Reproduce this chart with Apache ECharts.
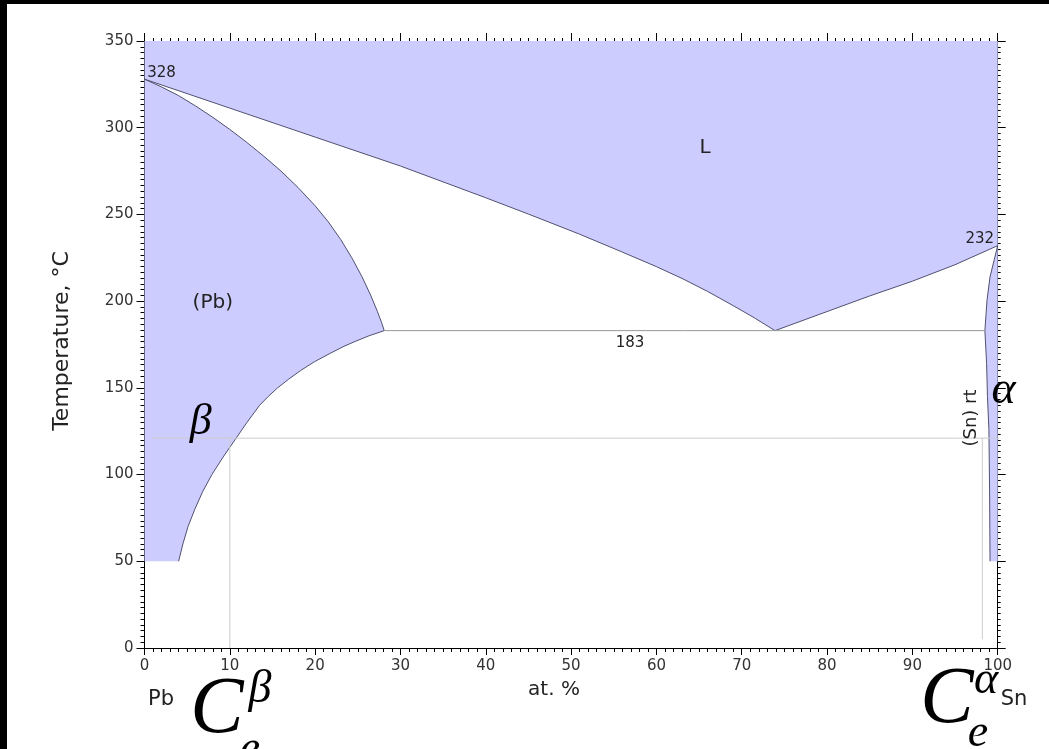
<!DOCTYPE html>
<html><head><meta charset="utf-8">
<script src="https://cdn.jsdelivr.net/npm/echarts@6/dist/echarts.min.js"></script>
<style>
html,body{margin:0;padding:0;background:#000;width:1049px;height:749px;overflow:hidden}
#chart{position:absolute;left:7px;top:4px;width:1042px;height:745px;background:#fff}
</style></head><body><div id="chart"></div>
<script>
// ---- tick labels ----
const xTickLabels = [0,10,20,30,40,50,60,70,80,90,100];
const yTickLabels = [0,50,100,150,200,250,300,350];

// ---- phase boundaries [at.% Sn, T °C] ----
const liquidusPb = [[0,328],[10,311.3],[20,294.6],[30,277.9],[40,259.6],[45,250.2],[51,238.6],[56,228.3],[60,219.9],[63,213.1],[66,205.6],[69,197.4],[71.5,190.3],[73.9,183]];
const solidusPb = [[0,328],[2,323.5],[4,318.5],[6,312.5],[8,306],[10,299],[12,291.5],[14,283.5],[16,275],[18,265.5],[20,255],[21.5,246],[23,235.5],[24.3,225],[25.5,214],[26.5,203.5],[27.3,194],[27.8,187.5],[28.1,183]];
const solvusPb = [[28.1,183],[26.3,180],[24.8,177],[23.4,174],[21.8,170],[19.9,165],[18.3,160],[16.9,155],[15.6,150],[14.5,145],[13.5,140],[12.0,130],[10.6,120],[9.2,110],[7.9,100],[6.8,90],[5.9,80],[5.1,70],[4.5,60],[4.0,50]];
const liquidusSn = [[73.9,183],[80,194],[85,203],[90,211.5],[95,221],[100,232]];
const solidusSn = [[100,232],[99.6,224],[99.1,214],[98.75,200.7],[98.5,183]];
const solvusSn = [[98.5,183],[98.7,164],[98.8,145],[98.97,126],[99.05,90],[99.1,50]];
const eutecticLine = [[28.1,183],[98.5,183]];
const plotTop = 350, dataBottom = 50;

// ---- guide lines ----
const guideH = [[0.8,121],[102,121]];
const guideV1 = [[10,121],[10,0]];
const guideV2 = [[98.2,121],[98.2,5]];

// ---- in-plot labels [text, x, T] ----
const plotLabels = [
  ['328',2.0,331.4],['232',97.9,235.7],['183',56.9,175.9],['L',65.7,288.3],
  ['(Pb)',8.0,198.9],['(Sn) rt',96.95,132.6],['β',6.6,130.3],['α',100.7,148.2]
];

// ---- build regions ----
const regionL = [[0,plotTop],[100,plotTop]].concat(liquidusSn.slice().reverse(), liquidusPb.slice().reverse());
const regionPb = solidusPb.concat(solvusPb.slice(1), [[0,dataBottom]]);
const regionSn = solidusSn.concat(solvusSn.slice(1), [[100,dataBottom]]);
const regions = [regionL, regionPb, regionSn];

const SANS = 'DejaVu Sans';
const SERIF = 'Liberation Serif';
const labelStyle = {
  '328':{size:15,family:SANS},
  '232':{size:15,family:SANS},
  '183':{size:15,family:SANS},
  'L':{size:20,family:SANS},
  '(Pb)':{size:20,family:SANS},
  '(Sn) rt':{size:18,family:SANS,rot:Math.PI/2},
  'β':{size:44,family:SERIF,italic:true,color:'#000'},
  'α':{size:46,family:SERIF,italic:true,color:'#000'}
};

const chart = echarts.init(document.getElementById('chart'));
const BOUND = '#505070';
function lineS(data, color, width, z, clip){
  return {type:'line', data:data, showSymbol:false, symbol:'none', lineStyle:{color:color,width:width},
    z:z, clip:clip, silent:true, animation:false, xAxisIndex:0, yAxisIndex:0};
}
const axisBase = {type:'value', axisLine:{show:true,onZero:false,lineStyle:{color:'#000',width:1}},
  splitLine:{show:false}, minorSplitLine:{show:false}};
const lblStyle = {fontSize:15, fontFamily:SANS, color:'#333'};

function gText(text, x, y, size, family, opts){
  opts = opts || {};
  return {type:'text', x:x-7, y:y-4, rotation:opts.rot||0, z:100,
    style:{text:text, fontSize:size, fontFamily:family, fontStyle:opts.italic?'italic':'normal',
      fill:opts.color||'#222', align:'center', verticalAlign:'middle', textAlign:'center', textVerticalAlign:'middle'}};
}

chart.setOption({
  animation:false,
  grid:{left:137.5, top:37, width:853.2, height:607, containLabel:false, outerBoundsMode:'none'},
  xAxis:[
    Object.assign({}, axisBase, {position:'bottom', min:xTickLabels[0], max:xTickLabels[xTickLabels.length-1], interval:10,
      axisTick:{show:true,length:7,lineStyle:{color:'#000'}},
      minorTick:{show:true,splitNumber:10,length:4,lineStyle:{color:'#000'}},
      axisLabel:Object.assign({margin:11}, lblStyle)}),
    Object.assign({}, axisBase, {position:'top', min:xTickLabels[0], max:xTickLabels[xTickLabels.length-1], interval:10,
      axisTick:{show:true,length:8,lineStyle:{color:'#000'}},
      minorTick:{show:true,splitNumber:10,length:3,lineStyle:{color:'#000'}},
      axisLabel:{show:false}})
  ],
  yAxis:[
    Object.assign({}, axisBase, {position:'left', min:yTickLabels[0], max:yTickLabels[yTickLabels.length-1], interval:50,
      axisTick:{show:true,length:8,lineStyle:{color:'#000'}},
      minorTick:{show:true,splitNumber:15,length:4,lineStyle:{color:'#000'}},
      axisLabel:Object.assign({margin:11}, lblStyle)}),
    Object.assign({}, axisBase, {position:'right', min:yTickLabels[0], max:yTickLabels[yTickLabels.length-1], interval:50,
      axisTick:{show:true,length:8,lineStyle:{color:'#000'}},
      minorTick:{show:true,splitNumber:15,length:3,lineStyle:{color:'#000'}},
      axisLabel:{show:false}})
  ],
  series:[
    {type:'custom', xAxisIndex:0, yAxisIndex:0, z:1, silent:true, clip:true,
      data: regions.map(function(r){return r[0];}),
      renderItem:function(params, api){
        const pts = regions[params.dataIndex].map(function(p){return api.coord(p);});
        return {type:'polygon', shape:{points:pts}, style:{fill:'#ccccff'}};
      }},
    lineS(liquidusPb, BOUND, 1, 3, true),
    lineS(solidusPb, BOUND, 1, 3, true),
    lineS(solvusPb, BOUND, 1, 3, true),
    lineS(liquidusSn, BOUND, 1, 3, true),
    lineS(solidusSn, BOUND, 1, 3, true),
    lineS(solvusSn, BOUND, 1, 3, true),
    lineS(eutecticLine, '#999999', 1, 3, true),
    lineS(guideH, '#cccccc', 1, 4, false),
    lineS(guideV1, '#cccccc', 1, 4, false),
    lineS(guideV2, '#cccccc', 1, 4, false),
    {type:'custom', xAxisIndex:0, yAxisIndex:0, z:10, silent:true, clip:false,
      data: plotLabels.map(function(l){return [l[1],l[2]];}),
      renderItem:function(params, api){
        const l = plotLabels[params.dataIndex];
        const s = labelStyle[l[0]];
        const p = api.coord([l[1],l[2]]);
        return {type:'text', x:p[0], y:p[1], rotation:s.rot||0,
          style:{text:l[0], fontSize:s.size, fontFamily:s.family, fontStyle:s.italic?'italic':'normal',
            fill:s.color||'#222', align:'center', verticalAlign:'middle'}};
      }}
  ],
  graphic:[
    gText('Temperature, °C', 62, 341, 22, SANS, {rot:Math.PI/2}),
    gText('at. %', 554, 690, 20, SANS),
    gText('Pb', 161, 700, 21, SANS),
    gText('Sn', 1014, 700, 21, SANS),
    gText('C', 217, 711, 80, SERIF, {italic:true,color:'#000'}),
    gText('β', 260, 690, 46, SERIF, {italic:true,color:'#000'}),
    gText('e', 250, 750, 46, SERIF, {italic:true,color:'#000'}),
    gText('C', 947, 701, 80, SERIF, {italic:true,color:'#000'}),
    gText('α', 986, 681, 46, SERIF, {italic:true,color:'#000'}),
    gText('e', 978, 734, 46, SERIF, {italic:true,color:'#000'})
  ]
});
</script></body></html>
